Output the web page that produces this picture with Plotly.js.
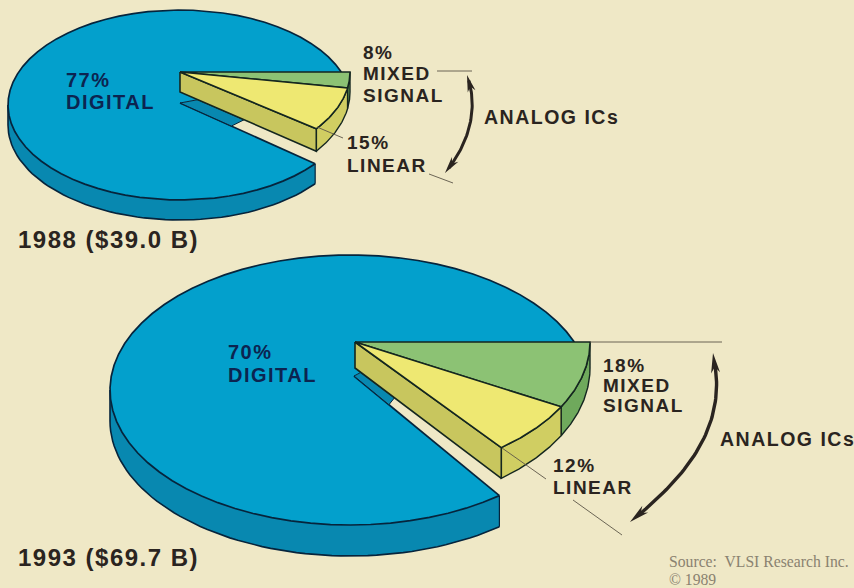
<!DOCTYPE html>
<html>
<head>
<meta charset="utf-8">
<script src="https://cdn.plot.ly/plotly-3.0.1.min.js"></script>
<style>
html,body{margin:0;padding:0;background:#efe8c6;}
.annotation-text{letter-spacing:1.5px;}
.annotation-text[style*="Serif"]{letter-spacing:0;}
</style>
</head>
<body>
<div id="chart" style="width:854px;height:588px;"></div>
<script>
// ---- data ----
const years = [1988, 1993];
const totals = ["$39.0 B", "$69.7 B"];
const digitalPct = [77, 70];
const mixedPct = [8, 18];
const linearPct = [15, 12];
const sourceLines = ["Source:  VLSI Research Inc.", "© 1989"];

// ---- drawing set-up ----
const BG = "#efe8c6", INK = "#2a2420", NAVY = "#0c2450", EDGE = "#14261f", DEDGE = "#06243c";
const C = {dig:"#03a0cc", digS:"#0888b0", mix:"#8cc274", mixS:"#6fa95c", lin:"#eee872", linS:"#c8c65e", linF:"#d0ce62"};

const pies = [
 {dig:{cx:180,cy:105,rx:172,ry:95}, apex:{x:180,y:103}, an:{cx:180,cy:72,rx:170,ry:95},
  dD:20, dB:20, dF:24, f1:.38, f2:.47, f0:.13, trim:1.5},
 {dig:{cx:350,cy:390,rx:240,ry:135}, apex:{x:354,y:376}, an:{cx:355,cy:342,rx:235,ry:135},
  dD:31, dB:26, dF:32, f1:.24, f2:.27, f0:.04, trim:0}
];

// the artist's foreshortening of a cumulative share into an ellipse angle
const angle = c => Math.max(0, 1.9*c - 5.5)*Math.PI/180;
const pt = (e,t,dy=0) => ({x:e.cx+e.rx*Math.cos(t), y:e.cy+e.ry*Math.sin(t)+dy});
const arc = (e,a,b,dyf) => { const n=60,o=[]; for(let i=0;i<=n;i++){const t=a+(b-a)*i/n; o.push(pt(e,t,dyf?dyf(t):0));} return o; };
const mix = (p,q,f) => ({x:p.x+(q.x-p.x)*f, y:p.y+(q.y-p.y)*f});

const traces = [];
function poly(pts, fill, line, w){
  const xs = pts.map(p=>p.x), ys = pts.map(p=>p.y);
  traces.push({type:"scatter",mode:"lines",x:xs.concat(xs[0]),y:ys.concat(ys[0]),fill:"toself",fillcolor:fill,
    line:{color:line||fill,width:line?(w||1.5):0},hoverinfo:"skip",showlegend:false});
}
function path(pts, color, w){
  traces.push({type:"scatter",mode:"lines",x:pts.map(p=>p.x),y:pts.map(p=>p.y),
    line:{color:color,width:w},hoverinfo:"skip",showlegend:false});
}

pies.forEach((g,i)=>{
  const t1 = angle(mixedPct[i]), tCut = angle(mixedPct[i]+linearPct[i]), t2 = tCut - g.trim*Math.PI/180;
  const a = g.an, d = g.dig;
  const dep = t => g.dB+(g.dF-g.dB)*Math.sin(t);
  const centerA = {x:a.cx,y:a.cy}, centerB = {x:a.cx,y:a.cy+g.dB};
  const tStart = -Math.asin((d.cy-a.cy)/d.ry);
  const cutEnd = pt(d,tCut);
  // digital wall
  const rim = arc(d,tCut,Math.PI);
  poly(rim.concat(arc(d,Math.PI,tCut,()=>g.dD)), C.digS);
  path(arc(d,tCut,Math.PI,()=>g.dD).concat([pt(d,Math.PI)]), DEDGE, 1.6);
  path([cutEnd,pt(d,tCut,g.dD)], DEDGE, 1.2);
  // digital top
  const wb1 = pt(a,t2,dep(t2));
  const topArc = arc(d,tCut,2*Math.PI+tStart);
  const sStart = mix(centerB,wb1,g.f0);
  poly(topArc.concat([{x:a.cx,y:a.cy}, sStart, g.apex]), C.dig);
  path(topArc, DEDGE, 1.7);
  path([cutEnd,g.apex], DEDGE, 1.7);
  // inner wall sliver
  poly([g.apex, sStart, mix(centerB,wb1,g.f2), mix(g.apex,cutEnd,g.f1)], C.digS, DEDGE, 1);
  // analog walls
  const bot = (x,y)=>arc(a,x,y,dep);
  poly(arc(a,0,t1).concat(bot(t1,0)), C.mixS, EDGE, 1.4);
  poly(arc(a,t1,t2).concat(bot(t2,t1)), C.linF, EDGE, 1.4);
  poly([centerA, pt(a,t2), wb1, centerB], C.linS, EDGE, 1.6);
  // analog tops
  poly([centerA].concat(arc(a,0,t1)), C.mix, EDGE, 1.6);
  poly([centerA].concat(arc(a,t1,t2)), C.lin, EDGE, 1.6);
});

// leader lines
const LEAD = "#5c5648";
[
 [{x:437,y:71},{x:472,y:71}],
 [{x:317,y:127},{x:343,y:138}],
 [{x:429,y:174},{x:453,y:183}],
 [{x:590,y:342},{x:722,y:342}],
 [{x:502,y:448},{x:546,y:479}],
 [{x:573,y:500},{x:622,y:535}]
].forEach(s=>path(s,LEAD,0.9));

// curved double arrows (cubic curve)
function curve(p,c,e,q,a,b){ const o=[]; for(let i=0;i<=50;i++){const u=a+(b-a)*i/50,v=1-u; o.push({x:v*v*v*p.x+3*v*v*u*c.x+3*v*u*u*e.x+u*u*u*q.x, y:v*v*v*p.y+3*v*v*u*c.y+3*v*u*u*e.y+u*u*u*q.y});} return o; }
function head(tip,from,len,wid){
  const dx=tip.x-from.x, dy=tip.y-from.y, L=Math.hypot(dx,dy), ux=dx/L, uy=dy/L;
  const b={x:tip.x-ux*len,y:tip.y-uy*len};
  const n={x:tip.x-ux*len*.7,y:tip.y-uy*len*.7};
  poly([tip,{x:b.x-uy*wid,y:b.y+ux*wid},n,{x:b.x+uy*wid,y:b.y-ux*wid}],INK);
}
function dbl(p,c,e,q,w,len,wid){
  path(curve(p,c,e,q,.06,.95),INK,w);
  head(p,curve(p,c,e,q,.14,.14)[0],len,wid); head(q,curve(p,c,e,q,.88,.88)[0],len,wid);
}
dbl({x:467,y:75},{x:478,y:105},{x:472,y:140},{x:445,y:173},3,17,4);
dbl({x:713,y:353},{x:728,y:420},{x:695,y:470},{x:630,y:522},3.4,20,4.5);

const SANS = "Liberation Sans, Arial, sans-serif", SERIF = "Liberation Serif, serif";
const note = (text,x,y,size,color,fam,w) => ({text,x,y,xref:"x",yref:"y",xanchor:"left",yanchor:"middle",showarrow:false,
   borderpad:0,borderwidth:0,font:{family:fam||SANS,size,color,weight:w===undefined?700:w}});
const annotations = [
 note(digitalPct[0]+"%",66,80,20,NAVY),
 note("DIGITAL",66,102,20,NAVY),
 note(mixedPct[0]+"%",363,52,19,INK),
 note("MIXED",363,73,19,INK),
 note("SIGNAL",363,95,19,INK),
 note(linearPct[0]+"%",347,142,19,INK),
 note("LINEAR",347,165,19,INK),
 note("ANALOG ICs",484,117,19.5,INK),
 note(years[0]+" ("+totals[0]+")",18,239,24,INK),
 note(digitalPct[1]+"%",228,352,20,NAVY),
 note("DIGITAL",228,375,20,NAVY),
 note(mixedPct[1]+"%",603,365,19,INK),
 note("MIXED",603,385,19,INK),
 note("SIGNAL",603,405,19,INK),
 note(linearPct[1]+"%",553,465,19,INK),
 note("LINEAR",553,487,19,INK),
 note(sourceLines[0],669,561,15.7,"#8a8270",SERIF,400),
 note(sourceLines[1],669,579,15.7,"#8a8270",SERIF,400),
 note("ANALOG ICs",720,439,19.5,INK),
 note(years[1]+" ("+totals[1]+")",18,557,24,INK)
];

const axis = r => ({range:r,visible:false,fixedrange:true,showgrid:false,zeroline:false});
Plotly.newPlot("chart",traces,{
  width:854,height:588,margin:{l:0,r:0,t:0,b:0},paper_bgcolor:BG,plot_bgcolor:BG,
  xaxis:axis([0,854]),yaxis:axis([588,0]),showlegend:false,annotations
},{displayModeBar:false,staticPlot:true});
</script>
</body>
</html>
